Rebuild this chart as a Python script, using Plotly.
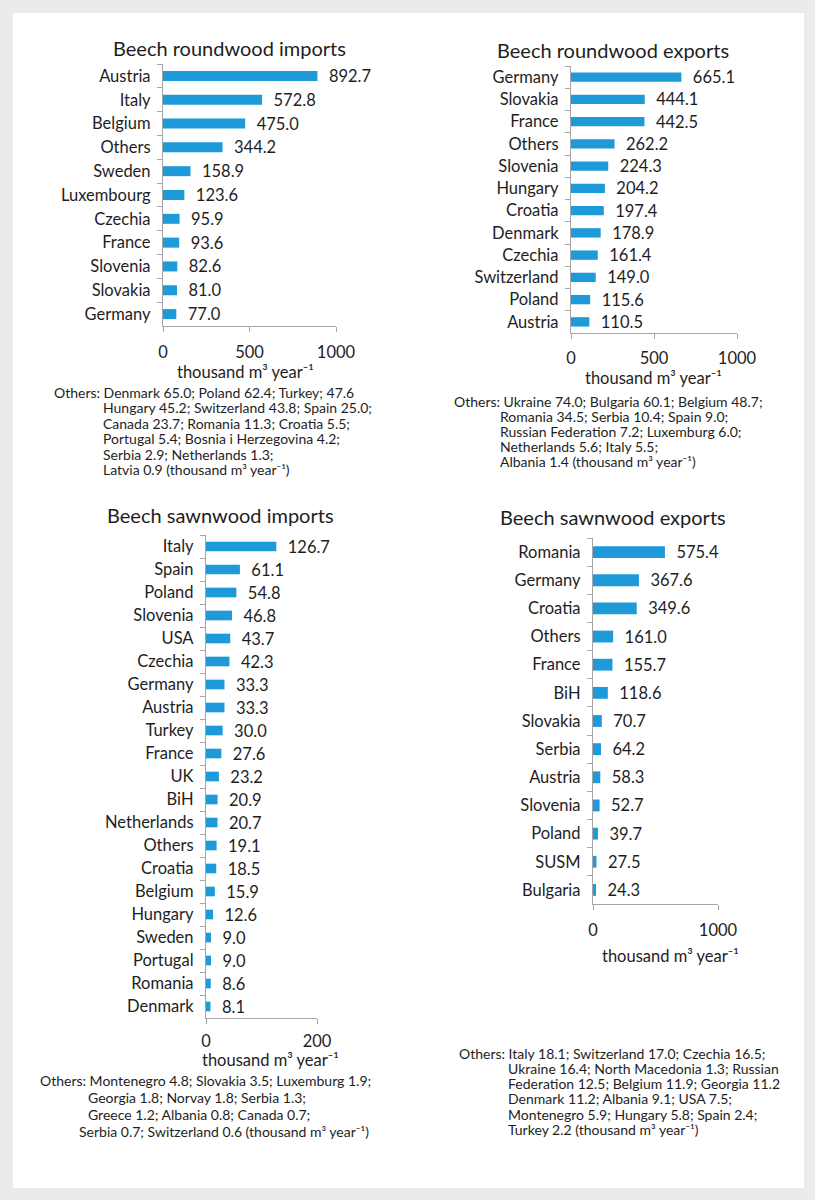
import plotly.graph_objects as go

W, H = 815, 1200
FONT = "Lato"
TXT = "#1e1e1e"
BAR = "#1f9ad8"
AX = "#a6a6a6"

# ---------------- data ----------------
ri_cats = ["Austria", "Italy", "Belgium", "Others", "Sweden", "Luxembourg",
           "Czechia", "France", "Slovenia", "Slovakia", "Germany"]
ri_vals = [892.7, 572.8, 475.0, 344.2, 158.9, 123.6, 95.9, 93.6, 82.6, 81.0, 77.0]

re_cats = ["Germany", "Slovakia", "France", "Others", "Slovenia", "Hungary",
           "Croatia", "Denmark", "Czechia", "Switzerland", "Poland", "Austria"]
re_vals = [665.1, 444.1, 442.5, 262.2, 224.3, 204.2, 197.4, 178.9, 161.4, 149.0, 115.6, 110.5]

si_cats = ["Italy", "Spain", "Poland", "Slovenia", "USA", "Czechia", "Germany",
           "Austria", "Turkey", "France", "UK", "BiH", "Netherlands", "Others",
           "Croatia", "Belgium", "Hungary", "Sweden", "Portugal", "Romania", "Denmark"]
si_vals = [126.7, 61.1, 54.8, 46.8, 43.7, 42.3, 33.3, 33.3, 30.0, 27.6, 23.2,
           20.9, 20.7, 19.1, 18.5, 15.9, 12.6, 9.0, 9.0, 8.6, 8.1]

se_cats = ["Romania", "Germany", "Croatia", "Others", "France", "BiH", "Slovakia",
           "Serbia", "Austria", "Slovenia", "Poland", "SUSM", "Bulgaria"]
se_vals = [575.4, 367.6, 349.6, 161.0, 155.7, 118.6, 70.7, 64.2, 58.3, 52.7, 39.7, 27.5, 24.3]

titles = ["Beech roundwood imports", "Beech roundwood exports",
          "Beech sawnwood imports", "Beech sawnwood exports"]
unit = "thousand m³ year⁻¹"
unit_paren = "(thousand m³ year⁻¹)"

ri_notes = ["Others: Denmark 65.0; Poland 62.4; Turkey; 47.6",
            "Hungary 45.2; Switzerland 43.8; Spain 25.0;",
            "Canada 23.7; Romania 11.3; Croatia 5.5;",
            "Portugal 5.4; Bosnia i Herzegovina 4.2;",
            "Serbia 2.9; Netherlands 1.3;",
            "Latvia 0.9 " + unit_paren]
re_notes = ["Others: Ukraine 74.0; Bulgaria 60.1; Belgium 48.7;",
            "Romania 34.5; Serbia 10.4; Spain 9.0;",
            "Russian Federation 7.2; Luxemburg 6.0;",
            "Netherlands 5.6; Italy 5.5;",
            "Albania 1.4 " + unit_paren]
si_notes = ["Others: Montenegro 4.8; Slovakia 3.5; Luxemburg 1.9;",
            "Georgia 1.8; Norvay 1.8; Serbia 1.3;",
            "Greece 1.2; Albania 0.8; Canada 0.7;",
            "Serbia 0.7; Switzerland 0.6 " + unit_paren]
se_notes = ["Others: Italy 18.1; Switzerland 17.0; Czechia 16.5;",
            "Ukraine 16.4; North Macedonia 1.3; Russian",
            "Federation 12.5; Belgium 11.9; Georgia 11.2",
            "Denmark 11.2; Albania 9.1; USA 7.5;",
            "Montenegro 5.9; Hungary 5.8; Spain 2.4;",
            "Turkey 2.2 " + unit_paren]

# ---------------- layout helpers ----------------
def px(x):
    return x / W

def py(y):
    return 1 - y / H

charts = [
    dict(c=ri_cats, v=ri_vals, xd=(163, 336), yd=(64, 326), xmax=1000, dt=500,
         so=6, tpos=(230, 48), upos=(246, 372)),
    dict(c=re_cats, v=re_vals, xd=(571, 737), yd=(66, 333), xmax=1000, dt=500,
         so=5, tpos=(613, 50), upos=(653, 378)),
    dict(c=si_cats, v=si_vals, xd=(206, 317), yd=(535, 1018), xmax=200, dt=200,
         so=3, tpos=(220, 515), upos=(270, 1060)),
    dict(c=se_cats, v=se_vals, xd=(593, 718), yd=(538, 904), xmax=1000, dt=1000,
         so=6, tpos=(613, 517), upos=(670, 956)),
]

notes = [
    (ri_notes, 52, [101, 101, 101, 101, 101], 392, 15.5),
    (re_notes, 452, [498, 498, 498, 498], 401, 15.2),
    (si_notes, 38, [86, 86, 77], 1080, 17),
    (se_notes, 457, [506, 506, 506, 506, 506], 1053, 15.3),
]

fig = go.Figure()
annotations = []
layout = {}

for i, ch in enumerate(charts):
    n = i + 1
    xa = "x" if n == 1 else f"x{n}"
    ya = "y" if n == 1 else f"y{n}"
    fig.add_trace(go.Bar(
        y=ch["c"], x=ch["v"], orientation="h",
        xaxis=xa, yaxis=ya,
        marker=dict(color=BAR, line=dict(width=0)),
        width=0.42,
        text=[f"  {v:.1f}" for v in ch["v"]],
        textposition="outside",
        constraintext="none",
        textfont=dict(family=FONT, size=16.5, color=TXT),
        cliponaxis=False,
        showlegend=False,
        hoverinfo="skip",
    ))
    layout["xaxis" if n == 1 else f"xaxis{n}"] = dict(
        domain=[px(ch["xd"][0]), px(ch["xd"][1])],
        anchor=ya, range=[0, ch["xmax"]], dtick=ch["dt"], tick0=0,
        showgrid=False, zeroline=False, automargin=False,
        showline=True, linecolor=AX, linewidth=1.3,
        ticks="outside", ticklen=5, tickcolor=AX, tickwidth=1.3,
        ticklabelstandoff=ch["so"],
        tickfont=dict(family=FONT, size=16.5, color=TXT),
        fixedrange=True,
    )
    layout["yaxis" if n == 1 else f"yaxis{n}"] = dict(
        domain=[py(ch["yd"][1]), py(ch["yd"][0])],
        anchor=xa, autorange="reversed", type="category",
        showgrid=False, zeroline=False, automargin=False,
        showline=True, linecolor=AX, linewidth=1.3,
        ticks="outside", ticklen=5, tickcolor=AX, tickwidth=1.3,
        tickson="boundaries", ticklabelstandoff=8,
        tickfont=dict(family=FONT, size=16.5, color=TXT),
        fixedrange=True,
    )
    annotations.append(dict(
        text=titles[i], x=px(ch["tpos"][0]), y=py(ch["tpos"][1]),
        xref="paper", yref="paper", xanchor="center", yanchor="middle",
        showarrow=False, font=dict(family=FONT, size=20, color=TXT)))
    annotations.append(dict(
        text=unit, x=px(ch["upos"][0]), y=py(ch["upos"][1]),
        xref="paper", yref="paper", xanchor="center", yanchor="middle",
        showarrow=False, font=dict(family=FONT, size=16.5, color=TXT)))

for lines, x0, xs, y0, dy in notes:
    for j, line in enumerate(lines):
        x = x0 if j == 0 else xs[j - 1]
        annotations.append(dict(
            text=line, x=px(x), y=py(y0 + j * dy),
            xref="paper", yref="paper", xanchor="left", yanchor="middle",
            showarrow=False, font=dict(family=FONT, size=14, color=TXT)))

fig.update_layout(
    template="none",
    width=W, height=H,
    margin=dict(l=0, r=0, t=0, b=0, pad=0),
    paper_bgcolor="#ebebeb",
    plot_bgcolor="rgba(0,0,0,0)",
    annotations=annotations,
    shapes=[dict(type="rect", xref="paper", yref="paper",
                 x0=px(13), x1=px(804), y0=py(1188), y1=py(13),
                 fillcolor="white", line=dict(width=0), layer="below")],
    **layout,
)

fig.write_html("out.html", config={"displayModeBar": False},
               post_script="document.body.style.margin='0';document.body.style.overflow='hidden';")
